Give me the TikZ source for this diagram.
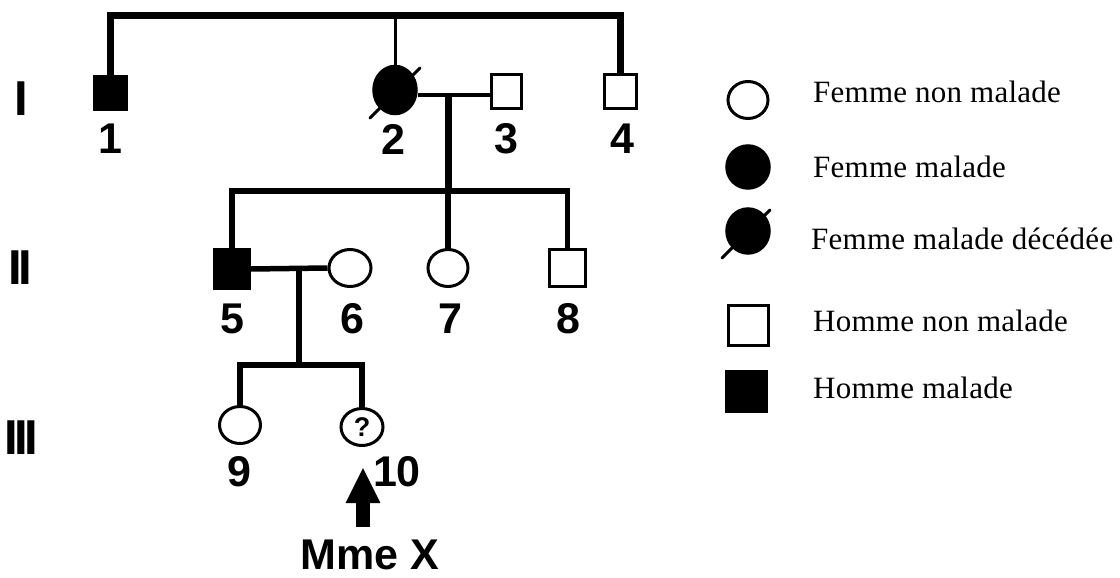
\documentclass[tikz,border=0pt]{standalone}
\usepackage{fontspec}
\setmainfont{Liberation Serif}
\newfontfamily\lsans{Liberation Sans}
\usetikzlibrary{arrows.meta,calc,shapes.geometric}
\begin{document}
\begin{tikzpicture}[x=1bp,y=-1bp,
  ind/.style={draw=black,inner sep=0pt,line width=3.5bp},
  msq/.style={ind,rectangle},
  fem/.style={ind,ellipse},
  aff/.style={fill=black},
  num/.style={font=\fontsize{43bp}{50bp}\selectfont\lsans\bfseries,inner sep=0pt},
  gen/.style={font=\fontsize{49bp}{56bp}\selectfont\lsans\bfseries\addfontfeature{LetterSpace=-7.5},inner sep=0pt},
  leg/.style={font=\fontsize{31bp}{36bp}\selectfont\addfontfeature{LetterSpace=0.8},anchor=base west,inner sep=0pt},
  rel/.style={line width=5.5bp},
  deadmark/.style={line width=3bp,line cap=round},
  blockarrow/.style={line width=14bp,-{Triangle[width=32bp,length=36bp]}}
]
\useasboundingbox[fill=white] (0,0) rectangle (1120,578);

% generation numerals
\node[gen] (gI) at (21,99) {I};
\node[gen] (gII) at (20,268) {II};
\node[gen] (gIII) at (21,438) {III};

% generation I
\node[msq,aff,minimum width=32bp,minimum height=33bp] (n1) at (110.5,93) {};
\node[fem,aff,minimum width=42bp,minimum height=47bp] (n2) at (395,90) {};
\draw[deadmark] ($(n2.center)+(-25,28)$) -- ($(n2.center)+(25,-22)$);
\node[msq,minimum width=30bp,minimum height=34bp] (n3) at (506.5,91.5) {};
\node[msq,minimum width=32bp,minimum height=34bp] (n4) at (620.5,91.5) {};

% generation II
\node[msq,aff,minimum width=34bp,minimum height=38bp] (n5) at (232,269) {};
\node[fem,line width=3bp,minimum width=42bp,minimum height=37bp] (n6) at (350,268) {};
\node[fem,line width=3bp,minimum width=40bp,minimum height=37bp] (n7) at (448,268) {};
\node[msq,minimum width=36bp,minimum height=37bp] (n8) at (567.5,268) {};

% generation III
\node[fem,line width=3bp,minimum width=41bp,minimum height=37bp] (n9) at (240,425) {};
\node[fem,line width=3bp,minimum width=42bp,minimum height=37bp,
  font=\fontsize{27bp}{30bp}\selectfont\lsans\bfseries] (n10) at (362,427) {?};

% numbers
\node[num] (l1) at (110,139) {1};
\node[num] (l2) at (393,139) {2};
\node[num] (l3) at (506,139) {3};
\node[num] (l4) at (622,139) {4};
\node[num] (l5) at (232,319) {5};
\node[num] (l6) at (352,319) {6};
\node[num] (l7) at (450,319) {7};
\node[num] (l8) at (568,319) {8};
\node[num] (l9) at (239,472) {9};
\node[num] (l10) at (397,472) {10};
\node[num] (mx) at (370,555) {Mme X};

% connectors
\coordinate (t) at (395,16);
\coordinate (m23) at (448,95);
\coordinate (s2) at (448,191);
\coordinate (m56) at (299,269);
\coordinate (s3) at (299,365);
\draw[line width=7bp] (n1.north) |- (t) -| (n4.north);
\draw[line width=3bp] (n2.north) -- (t);
\draw[line width=4bp] (n2.east |- m23) -- (n3.west |- m23);
\draw[line width=7bp] (m23) -- (s2);
\draw[rel] (n5.north) |- (s2) -| (n8.north);
\draw[rel] (s2) -- (n7.north);
\draw[rel] (n5.east) -- (n6.west);
\draw[rel] (m56) -- (s3);
\draw[rel] (n9.north) |- (s3) -| (n10.north);

% arrow to Mme X
\coordinate (ab) at (363,527);
\coordinate (at) at (363,467);
\draw[blockarrow] (ab) -- (at);

% legend
\node[fem,line width=3bp,minimum width=40bp,minimum height=37bp] (k1) at (748,100) {};
\node[fem,aff,minimum width=42bp,minimum height=42bp] (k2) at (748,167) {};
\node[fem,aff,minimum width=42bp,minimum height=44bp] (k3) at (748,231) {};
\draw[deadmark] ($(k3.center)+(-26,27)$) -- ($(k3.center)+(22,-21)$);
\node[msq,line width=3bp,minimum width=40bp,minimum height=40bp] (k4) at (748.5,325.5) {};
\node[msq,aff,minimum width=40bp,minimum height=40bp] (k5) at (746.5,391.5) {};
\node[leg] (t1) at (813,103) {Femme non malade};
\node[leg] (t2) at (813,178) {Femme malade};
\node[leg] (t3) at (811,250) {Femme malade décédée};
\node[leg] (t4) at (813,332) {Homme non malade};
\node[leg] (t5) at (813,398) {Homme malade};
\end{tikzpicture}
\end{document}
